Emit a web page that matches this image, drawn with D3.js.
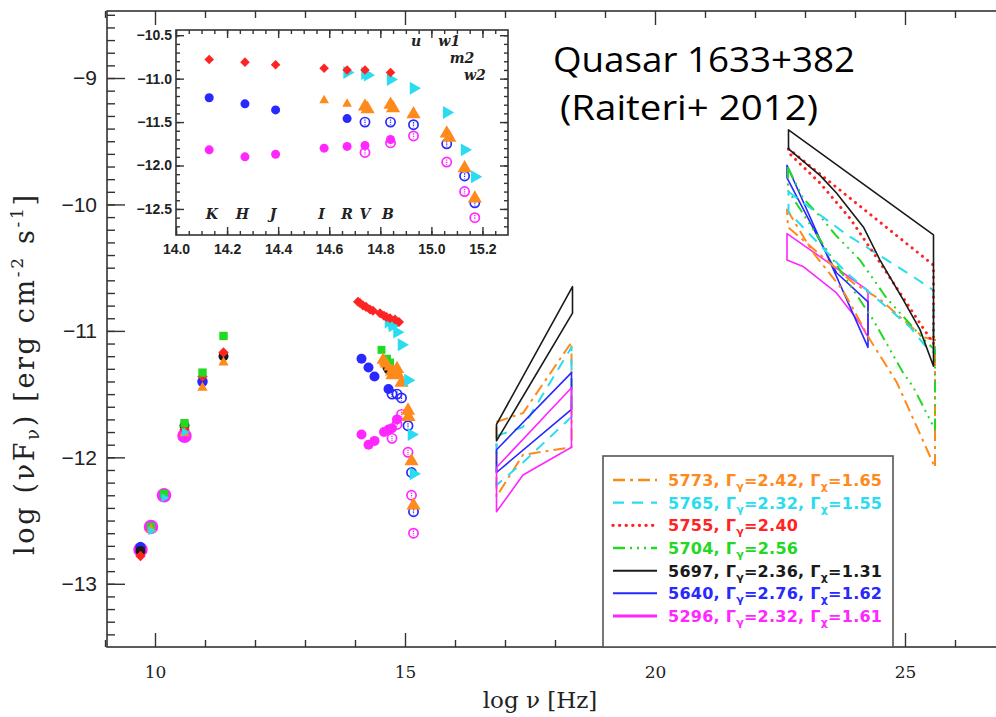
<!DOCTYPE html>
<html><head><meta charset="utf-8">
<script src="https://cdn.jsdelivr.net/npm/d3@7"></script>
<style>body{margin:0;background:#fff}</style>
</head><body><svg id="c" width="996" height="717"></svg>
<script>
// ================= DATA =================
// axis ticks
const xMajor = [10, 15, 20, 25];
const xMinor = [9, 11, 12, 13, 14, 16, 17, 18, 19, 21, 22, 23, 24, 26];
const yMajor = [-13, -12, -11, -10, -9];
const insetXTicks = [14.0, 14.2, 14.4, 14.6, 14.8, 15.0, 15.2];
const insetYTicks = [-12.5, -12.0, -11.5, -11.0, -10.5];

// optical / UV photometry (log nu, log nuFnu)
const redOpt = [[14.13,-10.78],[14.27,-10.81],[14.39,-10.84],[14.58,-10.88],[14.67,-10.90],[14.74,-10.90],[14.84,-10.93]];
const redOptMain = [[14.06,-10.77],[14.10,-10.78],[14.16,-10.80],[14.22,-10.81],[14.30,-10.83],[14.36,-10.84],[14.50,-10.86],[14.58,-10.88],[14.63,-10.89],[14.70,-10.90],[14.80,-10.91],[14.88,-10.93]];
const cyanOpt = [[14.67,-10.93],[14.74,-10.94],[14.75,-10.96],[14.84,-11.01],[14.93,-11.11],[15.06,-11.39],[15.13,-11.82],[15.17,-12.13]];
const orangeSmall = [[14.58,-11.25],[14.67,-11.29]];
const orangeOpt = [[14.74,-11.32],[14.75,-11.35],[14.84,-11.30],[14.85,-11.34],[14.93,-11.41],[15.06,-11.63],[15.07,-11.68],[15.13,-12.03],[15.17,-12.38]];
const blueOpt = [[14.13,-11.22],[14.27,-11.29],[14.39,-11.36],[14.67,-11.46]];
const blueUV = [[14.74,-11.50],[14.84,-11.50],[14.93,-11.53],[15.06,-11.75],[15.13,-12.12],[15.17,-12.43]];
const magentaOpt = [[14.13,-11.82],[14.27,-11.90],[14.39,-11.87],[14.58,-11.80],[14.67,-11.78],[14.74,-11.77],[14.84,-11.70]];
const magentaUV = [[14.74,-11.85],[14.84,-11.74],[14.93,-11.66],[15.06,-11.96],[15.13,-12.30],[15.17,-12.60]];
const greenOptMain = [[14.53,-11.15],[14.64,-11.22],[14.70,-11.25]];
const blackOptMain = [[14.63,-11.29],[14.66,-11.31]];
const orangeOptMain = [[14.56,-11.23],[14.62,-11.26]];

// radio / mm
const radioMagenta = [[9.71,-12.73],[9.92,-12.55],[10.18,-12.30],[10.59,-11.83]];
const radioBlue = [[9.71,-12.71],[10.95,-11.40]];
const radioBlack = [[9.71,-12.74],[10.59,-11.75],[11.37,-11.20]];
const radioRed = [[9.71,-12.78],[10.59,-11.78],[10.95,-11.36],[11.37,-11.17]];
const radioGreen = [[9.92,-12.55],[10.18,-12.29],[10.59,-11.73],[10.95,-11.33],[11.37,-11.04]];
const radioOrange = [[9.92,-12.57],[10.59,-11.81],[10.95,-11.45],[11.37,-11.25]];
const radioCyan = [[9.92,-12.58],[10.18,-12.32],[10.59,-11.80]];

// X-ray bow ties: two edges each
const xBlackA = [[16.83,-11.74],[18.35,-10.65]];
const xBlackB = [[16.83,-11.87],[18.35,-10.86]];
const xMagentaA = [[16.83,-12.08],[18.33,-11.45]];
const xMagentaB = [[16.83,-12.43],[17.36,-12.14],[18.33,-11.92]];
const xBlueA = [[16.83,-11.94],[18.33,-11.33]];
const xBlueB = [[16.83,-12.12],[18.33,-11.62]];
const xCyanA = [[16.83,-11.83],[17.36,-11.76],[18.33,-11.13]];
const xCyanB = [[16.83,-12.22],[17.36,-12.04],[18.33,-11.68]];
const xOrangeA = [[16.83,-11.72],[17.36,-11.65],[18.33,-11.09]];
const xOrangeB = [[16.83,-12.31],[17.36,-11.98],[18.33,-11.92]];

// gamma-ray bow ties
const gBlackA = [[22.67,-9.41],[25.57,-10.24]];
const gBlackB = [[22.67,-9.56],[23.30,-9.77],[23.63,-9.91],[24.17,-10.18],[24.50,-10.44],[24.96,-10.75],[25.30,-10.99],[25.57,-11.28]];
const gRedA = [[22.67,-9.56],[25.57,-10.48]];
const gRedB = [[22.67,-9.59],[23.30,-9.83],[23.90,-10.11],[24.50,-10.46],[24.95,-10.73],[25.30,-10.94],[25.57,-11.10]];
const gBlueA = [[22.64,-9.69],[24.26,-11.13]];
const gBlueB = [[22.64,-9.79],[23.63,-10.54],[24.26,-10.77]];
const gMagentaA = [[22.64,-10.23],[24.26,-10.68]];
const gMagentaB = [[22.64,-10.44],[22.96,-10.49],[23.63,-10.70],[24.10,-10.94],[24.26,-11.05]];
const gCyanA = [[22.67,-9.90],[23.84,-10.24],[25.16,-10.57],[25.57,-10.68]];
const gCyanB = [[22.67,-10.06],[23.83,-10.54],[25.10,-10.97],[25.43,-11.13],[25.57,-11.17]];
const gGreenA = [[22.66,-9.71],[22.96,-9.95],[23.36,-10.12],[23.63,-10.25],[24.10,-10.44],[24.63,-10.74],[25.43,-11.09],[25.60,-11.15]];
const gGreenB = [[22.66,-9.89],[23.50,-10.40],[24.36,-10.91],[24.96,-11.33],[25.16,-11.44],[25.60,-11.78]];
const gOrangeA = [[22.64,-10.04],[23.16,-10.38],[23.76,-10.68],[24.30,-11.07],[24.84,-11.41],[25.60,-12.08]];
const gOrangeB = [[22.66,-10.18],[23.96,-10.62],[24.50,-10.75],[25.36,-11.05],[25.60,-11.07]];

// legend
const legendIds = ['5773','5765','5755','5704','5697','5640','5296'];
const legendGammaG = ['2.42','2.32','2.40','2.56','2.36','2.76','2.32'];
const legendGammaX = ['1.65','1.55',null,null,'1.31','1.62','1.61'];
const legendKeys = ['orange','cyan','red','green','black','blue','magenta'];

const bandLabels = ['K','H','J','I','R','V','B'];
const bandX = [14.14,14.26,14.38,14.57,14.67,14.74,14.83];
const uvLabels = ['u','w1','m2','w2'];
const uvX = [14.94,15.07,15.12,15.17];
const uvY = [-10.62,-10.62,-10.82,-11.02];

// ================= STYLES =================
const C = {orange:'#ff8a1c', cyan:'#2adcf0', red:'#ff2424', green:'#22d822',
           black:'#1a1a1a', blue:'#2828ff', magenta:'#ff26ff'};
const LS = {
  orange:{dash:'12,5,3,5', w:2},
  cyan:{dash:'11,8', w:2},
  red:{dash:'0.1,6.5', w:3, cap:'round'},
  green:{dash:'12,5,2,5,2,5,2,5', w:2},
  black:{dash:null, w:1.6},
  blue:{dash:null, w:1.6},
  magenta:{dash:null, w:1.6}
};

// ================= SCALES =================
const svg = d3.select('#c');
const x = d3.scaleLinear().domain([9.04, 27]).range([107, 1005]);
const y = d3.scaleLinear().domain([-13.5, -8.47]).range([647, 11]);
const xi = d3.scaleLinear().domain([14.0, 15.3]).range([176, 508]);
const yi = d3.scaleLinear().domain([-12.8, -10.44]).range([235, 30]);
const minus = s => s.replace('-', '\u2212');

function styleAxis(g, font, size, weight) {
  g.select('.domain').remove();
  g.selectAll('line').attr('stroke', '#333').attr('stroke-width', 1.4);
  g.selectAll('text').attr('font-family', font).attr('font-size', size)
    .attr('font-weight', weight || 'normal').attr('fill', '#222');
}

// ================= MAIN AXES =================
const axG = svg.append('g');
axG.append('g').attr('transform', 'translate(0,647)')
  .call(d3.axisBottom(x).tickValues(xMajor).tickSize(-14).tickPadding(19).tickFormat(d3.format('d')))
  .call(g => styleAxis(g, 'DejaVu Serif', 17));
axG.append('g').attr('transform', 'translate(0,647)')
  .call(d3.axisBottom(x).tickValues(xMinor).tickSize(-7).tickFormat(''))
  .call(g => styleAxis(g));
axG.append('g').attr('transform', 'translate(0,11)')
  .call(d3.axisTop(x).tickValues(xMajor).tickSize(-14).tickFormat(''))
  .call(g => styleAxis(g));
axG.append('g').attr('transform', 'translate(0,11)')
  .call(d3.axisTop(x).tickValues(xMinor).tickSize(-7).tickFormat(''))
  .call(g => styleAxis(g));
axG.append('g').attr('transform', 'translate(107,0)')
  .call(d3.axisLeft(y).tickValues(d3.range(-134, -84).map(v => v / 10)).tickSize(-8).tickFormat(''))
  .call(g => styleAxis(g));
axG.append('g').attr('transform', 'translate(107,0)')
  .call(d3.axisLeft(y).tickValues(yMajor).tickSize(-18).tickPadding(10).tickFormat(v => minus(String(v))))
  .call(g => styleAxis(g, 'Liberation Sans', 21));
svg.append('rect').attr('x', 107).attr('y', 11).attr('width', 898).attr('height', 636)
  .attr('fill', 'none').attr('stroke', '#333').attr('stroke-width', 1.6);

// axis titles
svg.append('text').attr('x', 540).attr('y', 708).attr('text-anchor', 'middle')
  .attr('font-family', 'DejaVu Serif').attr('font-size', 23).attr('fill', '#222')
  .text('log \u03bd [Hz]');
const yl = svg.append('text').attr('transform', 'translate(34,375) rotate(-90)')
  .attr('text-anchor', 'middle').attr('font-family', 'DejaVu Serif').attr('font-size', 27).attr('fill', '#222');
yl.append('tspan').text('log (\u03bdF');
yl.append('tspan').attr('font-size', 18).attr('dy', 5).text('\u03bd');
yl.append('tspan').attr('dy', -5).text(') [erg cm');
yl.append('tspan').attr('font-size', 17).attr('dy', -11).text('-2');
yl.append('tspan').attr('dy', 11).text(' s');
yl.append('tspan').attr('font-size', 17).attr('dy', -11).text('-1');
yl.append('tspan').attr('dy', 11).text(']');
yl.attr('textLength', 360).attr('lengthAdjust', 'spacing');

// ================= MARKERS =================
function marker(parent, data, sx, sy, kind, color, s) {
  s = s || 1;
  const g = parent.append('g');
  data.forEach(d => {
    const px = sx(d[0]), py = sy(d[1]);
    const t = g.append('g').attr('transform', `translate(${px},${py})`);
    if (kind === 'circle') t.append('circle').attr('r', 5 * s).attr('fill', color);
    else if (kind === 'diamond') t.append('path').attr('d', d3.symbol(d3.symbolSquare, 38 * s * s)()).attr('transform', 'rotate(45)').attr('fill', color);
    else if (kind === 'square') t.append('path').attr('d', d3.symbol(d3.symbolSquare, 78 * s * s)()).attr('fill', color);
    else if (kind === 'tri') t.append('path').attr('d', d3.symbol(d3.symbolTriangle, 72 * s * s)()).attr('fill', color);
    else if (kind === 'triR') t.append('path').attr('d', d3.symbol(d3.symbolTriangle, 72 * s * s)()).attr('transform', 'rotate(90)').attr('fill', color);
    else if (kind === 'ring') {
      t.append('circle').attr('r', 4.6 * s).attr('fill', 'none').attr('stroke', color).attr('stroke-width', 1.7);
      t.append('line').attr('x1', 0).attr('x2', 0).attr('y1', -2.6 * s).attr('y2', 2.6 * s).attr('stroke', color).attr('stroke-width', 1.3).attr('stroke-dasharray', '1.3,1');
    }
  });
  return g;
}

// radio points
const pm = svg.append('g');
marker(pm, radioMagenta, x, y, 'circle', C.magenta, 1.45);
marker(pm, radioBlue, x, y, 'circle', C.blue, 1.05);
marker(pm, radioBlack, x, y, 'circle', C.black, 1.0);
marker(pm, radioRed, x, y, 'diamond', C.red, 1.2);
marker(pm, radioGreen, x, y, 'square', C.green, 0.95);
marker(pm, radioOrange, x, y, 'tri', C.orange, 0.8);
marker(pm, radioCyan, x, y, 'triR', C.cyan, 0.7);

// optical in main panel
marker(pm, magentaOpt, x, y, 'circle', C.magenta, 1);
marker(pm, magentaUV, x, y, 'ring', C.magenta, 1);
marker(pm, blueOpt, x, y, 'circle', C.blue, 1);
marker(pm, blueUV, x, y, 'ring', C.blue, 1);
marker(pm, greenOptMain, x, y, 'square', C.green, 0.9);
marker(pm, blackOptMain, x, y, 'circle', C.black, 0.8);
marker(pm, orangeOptMain, x, y, 'tri', C.orange, 1);
marker(pm, orangeSmall, x, y, 'tri', C.orange, 0.8);
marker(pm, orangeOpt, x, y, 'tri', C.orange, 1.1);
marker(pm, cyanOpt, x, y, 'triR', C.cyan, 1);
marker(pm, redOptMain, x, y, 'diamond', C.red, 1.15);

// ================= BOW TIES =================
const line = d3.line().x(d => x(d[0])).y(d => y(d[1]));
const bowties = [
  ['orange', xOrangeA, xOrangeB], ['cyan', xCyanA, xCyanB], ['blue', xBlueA, xBlueB],
  ['magenta', xMagentaA, xMagentaB], ['black', xBlackA, xBlackB],
  ['magenta', gMagentaA, gMagentaB], ['blue', gBlueA, gBlueB], ['orange', gOrangeA, gOrangeB],
  ['green', gGreenA, gGreenB], ['cyan', gCyanA, gCyanB], ['red', gRedA, gRedB], ['black', gBlackA, gBlackB]
];
const bg = svg.append('g');
bowties.forEach(([k, A, B]) => {
  bg.append('path').attr('d', line(A.concat(B.slice().reverse())) + 'Z')
    .attr('fill', 'none').attr('stroke', C[k]).attr('stroke-width', LS[k].w)
    .attr('stroke-dasharray', LS[k].dash).attr('stroke-linecap', LS[k].cap || 'butt')
    .attr('stroke-linejoin', 'round');
});

// ================= LEGEND =================
const lg = svg.append('g');
lg.append('rect').attr('x', 603).attr('y', 456).attr('width', 290).attr('height', 191)
  .attr('fill', '#fff').attr('stroke', '#555').attr('stroke-width', 1.6);
const rowY = d3.scalePoint().domain(legendIds).range([480, 616]);
legendIds.forEach((id, i) => {
  const k = legendKeys[i], ry = rowY(id);
  lg.append('line').attr('x1', 613).attr('x2', 657).attr('y1', ry).attr('y2', ry)
    .attr('stroke', C[k]).attr('stroke-width', k === 'magenta' ? 3 : LS[k].w + 0.4)
    .attr('stroke-dasharray', LS[k].dash).attr('stroke-linecap', LS[k].cap || 'butt');
  const t = lg.append('text').attr('x', 668).attr('y', ry + 6).attr('fill', C[k])
    .attr('font-family', 'DejaVu Sans').attr('font-weight', 'bold').attr('font-size', 16);
  t.append('tspan').text(id + ', \u0393');
  t.append('tspan').attr('font-size', 11).attr('dy', 4).text('\u03b3');
  t.append('tspan').attr('dy', -4).text('=' + legendGammaG[i] + (legendGammaX[i] ? ', \u0393' : ''));
  if (legendGammaX[i]) {
    t.append('tspan').attr('font-size', 11).attr('dy', 4).text('\u03c7');
    t.append('tspan').attr('dy', -4).text('=' + legendGammaX[i]);
  }
  t.attr('textLength', legendGammaX[i] ? 214 : 130).attr('lengthAdjust', 'spacing');
});

// ================= INSET =================
const ig = svg.append('g');
ig.append('rect').attr('x', 176).attr('y', 30).attr('width', 332).attr('height', 205).attr('fill', '#fff');
ig.append('g').attr('transform', 'translate(0,235)')
  .call(d3.axisBottom(xi).tickValues(d3.range(280, 306).map(v => v / 20)).tickSize(-4).tickFormat(''))
  .call(g => styleAxis(g));
ig.append('g').attr('transform', 'translate(0,235)')
  .call(d3.axisBottom(xi).tickValues(insetXTicks).tickSize(-8).tickPadding(9).tickFormat(d3.format('.1f')))
  .call(g => styleAxis(g, 'Liberation Sans', 14, 'bold'));
ig.append('g').attr('transform', 'translate(0,30)')
  .call(d3.axisTop(xi).tickValues(d3.range(280, 306).map(v => v / 20)).tickSize(-4).tickFormat(''))
  .call(g => styleAxis(g));
ig.append('g').attr('transform', 'translate(0,30)')
  .call(d3.axisTop(xi).tickValues(insetXTicks).tickSize(-8).tickFormat(''))
  .call(g => styleAxis(g));
ig.append('g').attr('transform', 'translate(176,0)')
  .call(d3.axisLeft(yi).tickValues(d3.range(-127, -104).map(v => v / 10)).tickSize(-4).tickFormat(''))
  .call(g => styleAxis(g));
ig.append('g').attr('transform', 'translate(176,0)')
  .call(d3.axisLeft(yi).tickValues(insetYTicks).tickSize(-8).tickPadding(4).tickFormat(v => minus(d3.format('.1f')(v))))
  .call(g => styleAxis(g, 'Liberation Sans', 14, 'bold'));
ig.append('g').attr('transform', 'translate(508,0)')
  .call(d3.axisRight(yi).tickValues(d3.range(-127, -104).map(v => v / 10)).tickSize(-4).tickFormat(''))
  .call(g => styleAxis(g));
ig.append('g').attr('transform', 'translate(508,0)')
  .call(d3.axisRight(yi).tickValues(insetYTicks).tickSize(-8).tickFormat(''))
  .call(g => styleAxis(g));
ig.append('rect').attr('x', 176).attr('y', 30).attr('width', 332).attr('height', 205)
  .attr('fill', 'none').attr('stroke', '#333').attr('stroke-width', 1.6);

marker(ig, magentaOpt, xi, yi, 'circle', C.magenta, 0.9);
marker(ig, magentaUV, xi, yi, 'ring', C.magenta, 1);
marker(ig, blueOpt, xi, yi, 'circle', C.blue, 0.9);
marker(ig, blueUV, xi, yi, 'ring', C.blue, 1);
marker(ig, orangeSmall, xi, yi, 'tri', C.orange, 0.75);
marker(ig, orangeOpt, xi, yi, 'tri', C.orange, 1.1);
marker(ig, cyanOpt, xi, yi, 'triR', C.cyan, 1);
marker(ig, redOpt, xi, yi, 'diamond', C.red, 1.1);

bandLabels.forEach((b, i) => {
  ig.append('text').attr('x', xi(bandX[i])).attr('y', yi(-12.62)).attr('text-anchor', 'middle')
    .attr('font-family', 'DejaVu Serif').attr('font-style', 'italic').attr('font-weight', 'bold')
    .attr('font-size', 14).attr('fill', '#222').text(b);
});
uvLabels.forEach((b, i) => {
  ig.append('text').attr('x', xi(uvX[i])).attr('y', yi(uvY[i])).attr('text-anchor', 'middle')
    .attr('font-family', 'DejaVu Serif').attr('font-style', 'italic').attr('font-weight', 'bold')
    .attr('font-size', 14).attr('fill', '#222').text(b);
});

// ================= TITLE =================
svg.append('text').attr('x', 553).attr('y', 72).attr('font-family', 'Open Sans').attr('font-size', 35)
  .attr('fill', '#000').attr('textLength', 302).attr('lengthAdjust', 'spacingAndGlyphs').text('Quasar 1633+382');
svg.append('text').attr('x', 560).attr('y', 120).attr('font-family', 'Open Sans').attr('font-size', 35)
  .attr('fill', '#000').attr('textLength', 258).attr('lengthAdjust', 'spacingAndGlyphs').text('(Raiteri+ 2012)');
</script></body></html>
